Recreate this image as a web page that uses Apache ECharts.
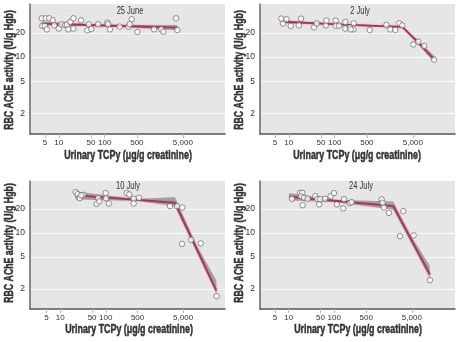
<!DOCTYPE html>
<html><head><meta charset="utf-8">
<script src="https://cdn.jsdelivr.net/npm/echarts@6/dist/echarts.min.js"></script>
<style>html,body{margin:0;padding:0;background:#fff}#c{width:461px;height:342px}</style>
</head><body><div id="c"></div>
<script>
// ---- data ----
const panelTitles = ['25 June', '2 July', '10 July', '24 July'];
const xTickValues = [5, 10, 50, 100, 500, 5000];
const yTickValues = [2, 5, 10, 20];
const xAxisTitle = 'Urinary TCPy (μg/g creatinine)';
const yAxisTitle = 'RBC AChE activity (U/g Hgb)';

const june25Points = [[4.3,30.5],[5.2,30.5],[6.2,30.5],[7.4,28.8],[4.4,24.5],[5.0,24.5],[5.5,22.2],[8.0,24.9],[10,22.7],[11.4,25.7],[13.7,25.2],[15.1,25.5],[16.2,22.2],[17.9,27.5],[20.8,30.5],[20.8,22.7],[30.5,28.8],[42,21.6],[45,25.7],[51,22.4],[72,25.7],[114,27.0],[118,25.7],[130,22.2],[211,24],[327,24],[349,25.7],[386,29.7],[512,20.6],[1180,22.2],[1700,22.2],[1880,20.8],[3550,30.5],[3790,21.8]];
const june25FitX = [4.3, 100, 3790];
const june25FitY = [26.2, 24.8, 23.3];
const june25BandHi = [27.6, 25.3, 25.2];
const june25BandLo = [24.8, 24.3, 21.6];

const july2Points = [[6.9,30.2],[8.9,29.7],[7.5,26.2],[11,24.5],[16.5,24.9],[18.5,30.2],[35.5,23.5],[40.5,26.4],[64,24.9],[66,28.6],[105,28.6],[105,24.7],[124,24.7],[170,27.5],[170,22.7],[215,23.5],[258,26.4],[254,22.2],[222,22.2],[575,21.8],[1325,25.2],[1620,22.2],[2080,21.8],[2540,26.4],[2950,24.9],[5120,14.4],[6570,15.6],[8880,13.8],[14400,9.3]];
const july2FitX = [7, 150, 2950, 7000, 14600];
const july2FitY = [27.7, 25.4, 23.8, 14.6, 9.4];
const july2BandHi = [28.9, 25.9, 24.4, 15.4, 10.3];
const july2BandLo = [26.5, 24.9, 23.2, 13.8, 8.6];

const july10Points = [[21.8,32.3],[24.1,30.5],[26.7,27.2],[32,29.9],[29,29.5],[63,23.1],[68,27.2],[72,24.7],[99,31.4],[101,27],[117,23.3],[288,31.4],[329,30.2],[410,26.7],[410,23.3],[537,27.4],[2580,21.6],[3680,21.6],[4810,20.8],[4730,7.3],[7500,8.2],[12200,7.4],[27300,1.62]];
const july10FitX = [21.5, 500, 3300, 10000, 27000];
const july10FitY = [29.4, 25.8, 23.8, 6.28, 1.9];
const july10BandHi = [33.0, 26.6, 28.0, 7.0, 2.55];
const july10BandLo = [26.2, 25.0, 21.5, 5.7, 1.72];

const july24Points = [[11.8,26.7],[17.7,31.7],[19.9,31.7],[18.6,28.6],[20.3,22.2],[21.7,27.5],[26.1,26.7],[38.4,28.8],[42.5,26.4],[46.9,22.7],[49.3,26.4],[62.5,26.7],[83.2,28.8],[98.4,31.4],[114,22.7],[157,20.2],[163,26.4],[217,23.6],[240,24.2],[1090,26.2],[1140,23.8],[1220,20.8],[1570,17.8],[3240,18.7],[2740,9.1],[5460,9.3],[12400,2.57]];
const july24FitX = [10.3, 100, 1960, 5000, 12400];
const july24FitY = [28.3, 25.2, 21.6, 7.96, 3.03];
const july24BandHi = [31.6, 26.0, 24.6, 8.8, 3.9];
const july24BandLo = [25.4, 24.4, 19.4, 7.2, 2.7];

// ---- layout ----
const panels = [
  {pts: june25Points, fx: june25FitX, fy: june25FitY, hi: june25BandHi, lo: june25BandLo},
  {pts: july2Points, fx: july2FitX, fy: july2FitY, hi: july2BandHi, lo: july2BandLo},
  {pts: july10Points, fx: july10FitX, fy: july10FitY, hi: july10BandHi, lo: july10BandLo},
  {pts: july24Points, fx: july24FitX, fy: july24FitY, hi: july24BandHi, lo: july24BandLo}
];
const gridPos = [
  {left: 30, top: 4, width: 195, height: 130},
  {left: 260, top: 4, width: 195, height: 130},
  {left: 30, top: 181, width: 195, height: 128},
  {left: 260, top: 181, width: 195, height: 128}
];
const xMin = [2.37, 2.37, 2.16, 2.36], xMax = [41200, 41200, 41700, 44000];
const yMin = [1.1, 1.1, 1.12, 1.12], yMax = [46, 46, 44.5, 44.5];
const titlePos = [[130, 11], [360, 11], [128, 186], [361, 186]];
const xNamePos = [[128, 156], [357, 156], [129, 330], [358, 330]];
const yNamePos = [[10, 70], [240, 70], [10, 243], [240, 243]];
const FONT = "'Liberation Sans', Arial, sans-serif";

const chart = echarts.init(document.getElementById('c'), null, {renderer: 'canvas'});
const grid = [], xAxis = [], yAxis = [], series = [], graphic = [];
panels.forEach((p, i) => {
  grid.push(Object.assign({show: true, backgroundColor: '#e6e6e6', borderWidth: 0, containLabel: false, outerBoundsMode: 'none'}, gridPos[i]));
  xAxis.push({
    type: 'log', gridIndex: i, min: xMin[i], max: xMax[i],
    axisLine: {show: true, lineStyle: {color: '#555', width: 1.5}},
    axisTick: {show: true, customValues: xTickValues, length: 4, lineStyle: {color: '#bbb', width: 1}},
    axisLabel: {customValues: xTickValues, fontFamily: FONT, fontSize: 8, color: '#333', margin: 5,
      formatter: v => Number(v).toLocaleString('en-US')},
    splitLine: {show: false}
  });
  yAxis.push({
    type: 'log', gridIndex: i, min: yMin[i], max: yMax[i],
    axisLine: {show: true, lineStyle: {color: '#666', width: 1.5}},
    axisTick: {show: false, customValues: yTickValues},
    axisLabel: {customValues: yTickValues, fontFamily: FONT, fontSize: 8.5, color: '#333', margin: 5},
    splitLine: {show: true, lineStyle: {color: '#fafafa', width: 1}}
  });
  series.push({
    type: 'custom', xAxisIndex: i, yAxisIndex: i, silent: true, z: 2,
    data: p.fx.map((x, k) => [x, p.fy[k]]),
    renderItem: (params, api) => {
      if (params.dataIndex !== 0) return null;
      const poly = [];
      for (let k = 0; k < p.fx.length; k++) poly.push(api.coord([p.fx[k], p.hi[k]]));
      for (let k = p.fx.length - 1; k >= 0; k--) poly.push(api.coord([p.fx[k], p.lo[k]]));
      return {type: 'polygon', shape: {points: poly}, style: {fill: 'rgba(120,120,120,0.6)'}};
    }
  });
  series.push({
    type: 'line', xAxisIndex: i, yAxisIndex: i, z: 3, symbol: 'none', silent: true,
    data: p.fx.map((x, k) => [x, p.fy[k]]),
    lineStyle: {color: '#ad3350', width: 1.8, shadowColor: 'rgba(200,80,110,0.5)', shadowBlur: 2}
  });
  series.push({
    type: 'scatter', xAxisIndex: i, yAxisIndex: i, z: 4, symbol: 'circle', symbolSize: 5.5,
    data: p.pts,
    itemStyle: {color: '#ffffff', borderColor: '#555', borderWidth: 0.8}
  });
  graphic.push({type: 'text', x: titlePos[i][0], y: titlePos[i][1], scaleX: 0.75, z: 10,
    style: {text: panelTitles[i], fontFamily: FONT, fontSize: 10, fill: '#333', textAlign: 'center', textVerticalAlign: 'middle'}});
  graphic.push({type: 'text', x: xNamePos[i][0], y: xNamePos[i][1], scaleX: 0.71, z: 10,
    style: {text: xAxisTitle, fontFamily: FONT, fontWeight: 'bold', fontSize: 12.5, fill: '#333', stroke: '#333', lineWidth: 0.5, textAlign: 'center', textVerticalAlign: 'middle'}});
  graphic.push({type: 'text', x: yNamePos[i][0], y: yNamePos[i][1], rotation: Math.PI / 2, scaleX: 0.7, z: 10,
    style: {text: yAxisTitle, fontFamily: FONT, fontWeight: 'bold', fontSize: 12.5, fill: '#333', stroke: '#333', lineWidth: 0.5, textAlign: 'center', textVerticalAlign: 'middle'}});
});

chart.setOption({animation: false, grid, xAxis, yAxis, series, graphic});
</script>
</body></html>
